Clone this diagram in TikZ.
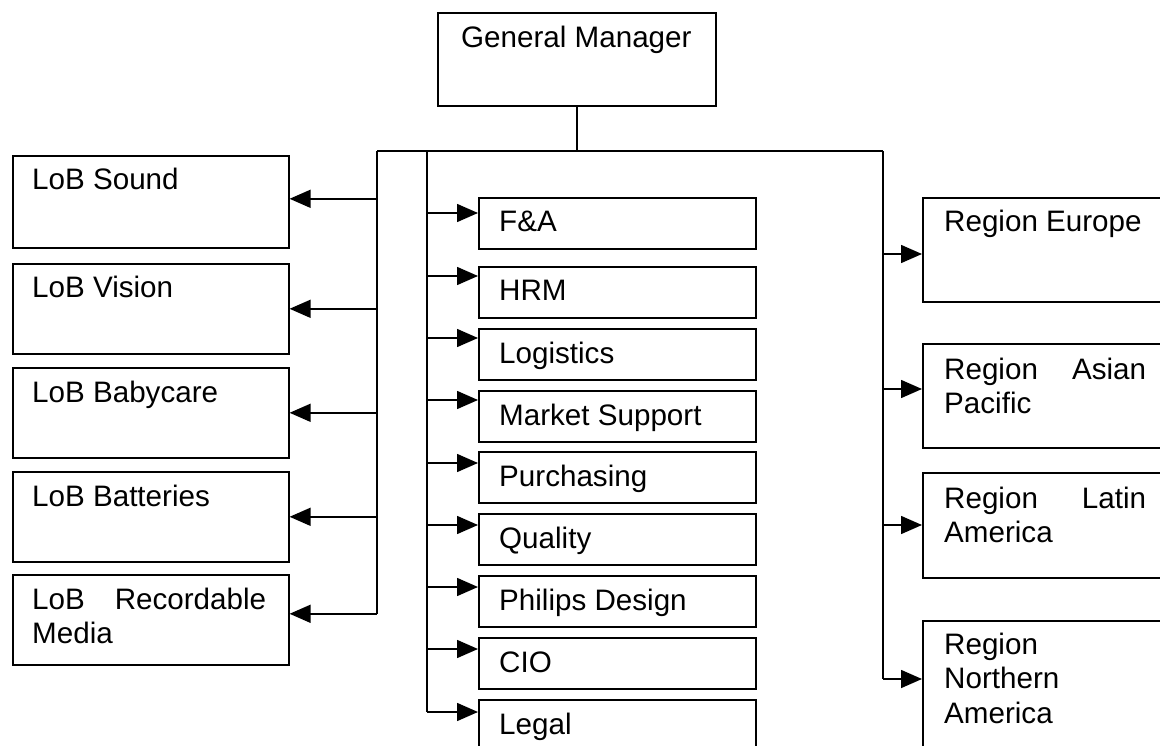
\documentclass[tikz,border=0pt]{standalone}
\usepackage{fontspec}
\setmainfont{Liberation Sans}
\usetikzlibrary{arrows.meta}
\begin{document}
\begin{tikzpicture}[x=1pt,y=-1pt,
  unit/.style={draw, line width=1.6pt, inner sep=0pt, anchor=north west},
  lbl/.style={anchor=base west, inner sep=0pt, font=\fontsize{29.6}{34.5}\selectfont},
  mlbl/.style={lbl, text width=#1, align=left},
  link/.style={line width=1.6pt},
  arr/.style={line width=1.6pt, -{Triangle[length=21pt,width=18pt]}}]
\useasboundingbox (0,0) rectangle (1160,746);
\clip (0,0) rectangle (1160,746);

% top
\node[unit, minimum width=278pt, minimum height=93pt] (gm) at (437,12) {};
\node[lbl] (gm-t) at ([xshift=24pt,yshift=-36pt]gm.north west) {General Manager};

% lines of business
\node[unit, minimum width=276pt, minimum height=92pt] (sound) at (12,155) {};
\node[unit, minimum width=276pt, minimum height=90pt] (vision) at (12,263) {};
\node[unit, minimum width=276pt, minimum height=90pt] (baby) at (12,367) {};
\node[unit, minimum width=276pt, minimum height=90pt] (batt) at (12,471) {};
\node[unit, minimum width=276pt, minimum height=90pt] (rec) at (12,574) {};
\node[lbl] (sound-t) at ([xshift=20pt,yshift=-35pt]sound.north west) {LoB Sound};
\node[lbl] (vision-t) at ([xshift=20pt,yshift=-35pt]vision.north west) {LoB Vision};
\node[lbl] (baby-t) at ([xshift=20pt,yshift=-35pt]baby.north west) {LoB Babycare};
\node[lbl] (batt-t) at ([xshift=20pt,yshift=-35pt]batt.north west) {LoB Batteries};
\node[mlbl=234pt] (rec-t) at ([xshift=20pt,yshift=-35pt]rec.north west)
  {\hbox to\hsize{LoB\hfil Recordable}\\Media};

% staff functions
\node[unit, minimum width=277pt, minimum height=51pt] (fa) at (478,197) {};
\node[unit, minimum width=277pt, minimum height=51pt] (hrm) at (478,266) {};
\node[unit, minimum width=277pt, minimum height=51pt] (log) at (478,328) {};
\node[unit, minimum width=277pt, minimum height=51pt] (mkt) at (478,390) {};
\node[unit, minimum width=277pt, minimum height=51pt] (pur) at (478,451) {};
\node[unit, minimum width=277pt, minimum height=51pt] (qual) at (478,513) {};
\node[unit, minimum width=277pt, minimum height=51pt] (phil) at (478,575) {};
\node[unit, minimum width=277pt, minimum height=51pt] (cio) at (478,637) {};
\node[unit, minimum width=277pt, minimum height=51pt] (legal) at (478,699) {};
\node[lbl] (fa-t) at ([xshift=21pt,yshift=-35pt]fa.north west) {F\&A};
\node[lbl] (hrm-t) at ([xshift=21pt,yshift=-35pt]hrm.north west) {HRM};
\node[lbl] (log-t) at ([xshift=21pt,yshift=-35pt]log.north west) {Logistics};
\node[lbl] (mkt-t) at ([xshift=21pt,yshift=-35pt]mkt.north west) {Market Support};
\node[lbl] (pur-t) at ([xshift=21pt,yshift=-35pt]pur.north west) {Purchasing};
\node[lbl] (qual-t) at ([xshift=21pt,yshift=-35pt]qual.north west) {Quality};
\node[lbl] (phil-t) at ([xshift=21pt,yshift=-35pt]phil.north west) {Philips Design};
\node[lbl] (cio-t) at ([xshift=21pt,yshift=-35pt]cio.north west) {CIO};
\node[lbl] (legal-t) at ([xshift=21pt,yshift=-35pt]legal.north west) {Legal};

% regions
\node[unit, minimum width=245pt, minimum height=104pt] (eur) at (922,197) {};
\node[unit, minimum width=245pt, minimum height=104pt] (asia) at (922,343) {};
\node[unit, minimum width=245pt, minimum height=105pt] (latin) at (922,472) {};
\node[unit, minimum width=245pt, minimum height=150pt] (north) at (922,620) {};
\node[lbl] (eur-t) at ([xshift=22pt,yshift=-35pt]eur.north west) {Region Europe};
\node[mlbl=202pt] (asia-t) at ([xshift=22pt,yshift=-36pt]asia.north west)
  {\hbox to\hsize{Region\hfil Asian}\\Pacific};
\node[mlbl=202pt] (latin-t) at ([xshift=22pt,yshift=-36pt]latin.north west)
  {\hbox to\hsize{Region\hfil Latin}\\America};
\node[mlbl=202pt] (north-t) at ([xshift=22pt,yshift=-34pt]north.north west)
  {Region\\Northern\\America};

% arrow entry points
\coordinate (sound-in) at ([yshift=3pt]sound.east);
\coordinate (vision-in) at (vision.east);
\coordinate (baby-in) at (baby.east);
\coordinate (batt-in) at (batt.east);
\coordinate (rec-in) at ([yshift=6pt]rec.east);
\coordinate (fa-in) at ([yshift=-16pt]fa.north west);
\coordinate (hrm-in) at ([yshift=-10pt]hrm.north west);
\coordinate (log-in) at ([yshift=-10pt]log.north west);
\coordinate (mkt-in) at ([yshift=-10pt]mkt.north west);
\coordinate (pur-in) at ([yshift=-12pt]pur.north west);
\coordinate (qual-in) at ([yshift=-12pt]qual.north west);
\coordinate (phil-in) at ([yshift=-12pt]phil.north west);
\coordinate (cio-in) at ([yshift=-12pt]cio.north west);
\coordinate (legal-in) at ([yshift=-13pt]legal.north west);
\coordinate (eur-in) at ([yshift=-57pt]eur.north west);
\coordinate (asia-in) at ([yshift=-46pt]asia.north west);
\coordinate (latin-in) at ([yshift=-53pt]latin.north west);
\coordinate (north-in) at ([yshift=-59pt]north.north west);

% bus lines
\coordinate (lbus) at (377,151);
\coordinate (mbus) at (427,151);
\coordinate (rbus) at (883,151);
\draw[link] (gm.south) -- (gm.south |- lbus);
\draw[link] (lbus) -- (rbus);
\draw[link] (lbus) -- (lbus |- rec-in);
\draw[link] (mbus) -- (mbus |- legal-in);
\draw[link] (rbus) -- (rbus |- north-in);

% arrows
\foreach \u in {sound,vision,baby,batt,rec}
  \draw[arr] (lbus |- \u-in) -- (\u-in);
\foreach \u in {fa,hrm,log,mkt,pur,qual,phil,cio,legal}
  \draw[arr] (mbus |- \u-in) -- (\u-in);
\foreach \u in {eur,asia,latin,north}
  \draw[arr] (rbus |- \u-in) -- (\u-in);
\end{tikzpicture}
\end{document}
